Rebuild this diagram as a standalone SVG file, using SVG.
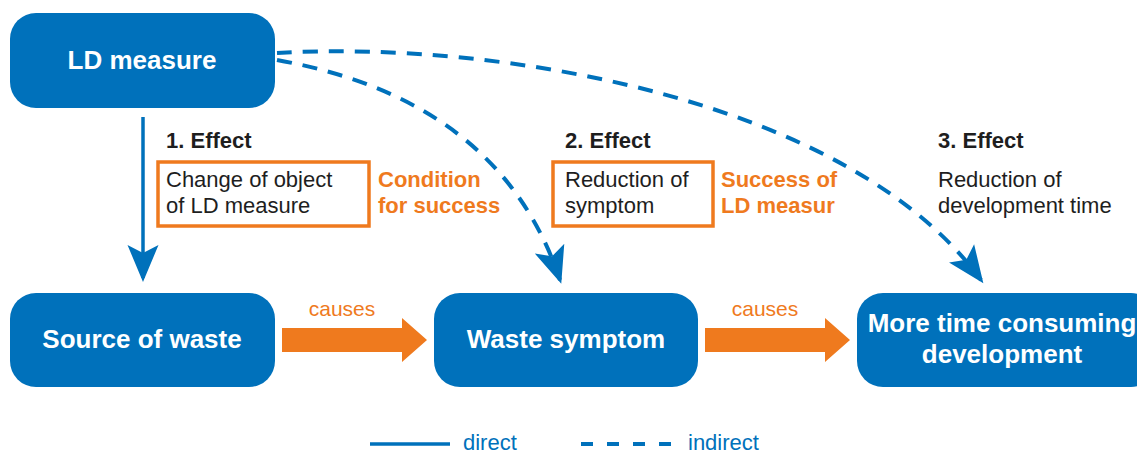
<svg xmlns="http://www.w3.org/2000/svg" width="1137" height="454" viewBox="0 0 1137 454">
<style>
.node{fill:#0071bb}
.nt{font-family:"Liberation Sans",Arial,sans-serif;font-weight:bold;font-size:26px;fill:#ffffff;text-anchor:middle}
.eff{font-family:"Liberation Sans",Arial,sans-serif;font-weight:bold;font-size:22px;fill:#1e1e1e}
.txt{font-family:"Liberation Sans",Arial,sans-serif;font-size:22px;fill:#1e1e1e}
.otxt{font-family:"Liberation Sans",Arial,sans-serif;font-weight:bold;font-size:22px;fill:#ef7a1e}
.cause{font-family:"Liberation Sans",Arial,sans-serif;font-size:21px;fill:#ef7a1e;text-anchor:middle}
.leg{font-family:"Liberation Sans",Arial,sans-serif;font-size:22px;fill:#0071bb}
.obox{fill:none;stroke:#ef7a1e;stroke-width:3.5}
.direct{fill:none;stroke:#0071bb;stroke-width:3.5}
.indirect{fill:none;stroke:#0071bb;stroke-width:4;stroke-dasharray:15 11}
.big{fill:#ef7a1e}
</style>
<defs>
<marker id="ah" markerUnits="userSpaceOnUse" viewBox="-40 -20 44 40" markerWidth="44" markerHeight="40" refX="-4" refY="0" orient="auto">
<path d="M0,0 L-37,-15.5 L-29,0 L-37,15.5 Z" fill="#0071bb"/>
</marker>
</defs>
<g id="connectors">
<path class="direct" d="M143,117 L143,278" marker-end="url(#ah)"/>
<path class="indirect" d="M277,60 Q500,100 560,280" marker-end="url(#ah)"/>
<path class="indirect" d="M277,53 C500,40 850,100 981,280" marker-end="url(#ah)"/>
<path class="big" d="M282,328 L402,328 L402,318 L427,340 L402,362 L402,352 L282,352 Z"/>
<path class="big" d="M705,328 L825,328 L825,318 L850,340 L825,362 L825,352 L705,352 Z"/>
<text class="cause" x="342" y="316">causes</text>
<text class="cause" x="765" y="316">causes</text>
</g>
<g id="ld-measure">
<rect class="node" x="10" y="13" width="265" height="95" rx="26"/>
<text class="nt" x="142" y="69">LD measure</text>
</g>
<g id="source-of-waste">
<rect class="node" x="10" y="293" width="265" height="94" rx="26"/>
<text class="nt" x="142" y="348">Source of waste</text>
</g>
<g id="waste-symptom">
<rect class="node" x="434" y="293" width="264" height="94" rx="26"/>
<text class="nt" x="566" y="348">Waste symptom</text>
</g>
<g id="more-time">
<rect class="node" x="857" y="293" width="300" height="94" rx="26"/>
<text class="nt" x="1002" y="332">More time consuming</text>
<text class="nt" x="1002" y="363">development</text>
</g>
<g id="effect1">
<text class="eff" x="166" y="148">1. Effect</text>
<rect class="obox" x="158" y="162" width="211" height="64"/>
<text class="txt" x="166" y="187">Change of object</text>
<text class="txt" x="166" y="213">of LD measure</text>
<text class="otxt" x="378" y="187">Condition</text>
<text class="otxt" x="378" y="213">for success</text>
</g>
<g id="effect2">
<text class="eff" x="565" y="148">2. Effect</text>
<rect class="obox" x="553" y="162" width="160" height="64"/>
<text class="txt" x="565" y="187">Reduction of</text>
<text class="txt" x="565" y="213">symptom</text>
<text class="otxt" x="721" y="187">Success of</text>
<text class="otxt" x="721" y="213">LD measur</text>
</g>
<g id="effect3">
<text class="eff" x="938" y="148">3. Effect</text>
<text class="txt" x="938" y="187">Reduction of</text>
<text class="txt" x="938" y="213">development time</text>
</g>
<g id="legend">
<line class="direct" x1="370" y1="444" x2="450" y2="444"/>
<text class="leg" x="463" y="450">direct</text>
<line x1="581" y1="444" x2="673" y2="444" stroke="#0071bb" stroke-width="4" stroke-dasharray="12 14"/>
<text class="leg" x="688" y="450">indirect</text>
</g>
</svg>
